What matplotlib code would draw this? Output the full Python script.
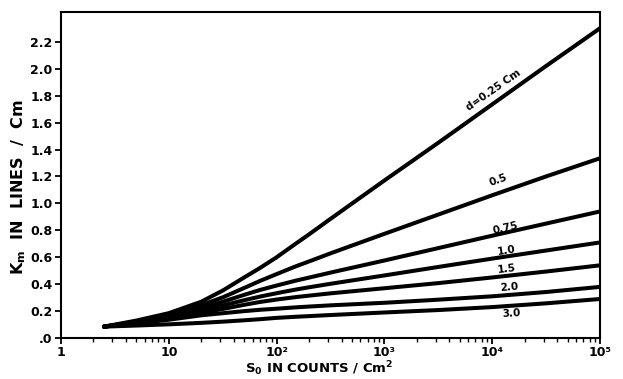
import matplotlib

matplotlib.use("Agg")
import matplotlib.pyplot as plt  # noqa: E402
import numpy as np  # noqa: E402
from matplotlib.ticker import FixedLocator, LogLocator, NullFormatter  # noqa: E402

# S0 sample points (counts / cm^2)
s0 = [2.5, 5, 10, 20, 32, 50, 70, 100, 150, 200, 316, 1000, 3162, 10000, 31623, 100000]

# Km (lines / cm) for each thickness d
km_d025 = [0.085, 0.13, 0.185, 0.27, 0.355, 0.45, 0.52, 0.60, 0.70, 0.77, 0.885,
           1.17, 1.45, 1.735, 2.02, 2.30]
km_d05 = [0.085, 0.121, 0.172, 0.244, 0.304, 0.372, 0.424, 0.475, 0.532, 0.569, 0.629,
          0.774, 0.917, 1.06, 1.20, 1.335]
km_d075 = [0.085, 0.118, 0.163, 0.223, 0.271, 0.321, 0.357, 0.39, 0.426, 0.449, 0.486,
           0.576, 0.668, 0.76, 0.85, 0.94]
km_d10 = [0.085, 0.115, 0.154, 0.205, 0.243, 0.281, 0.308, 0.333, 0.36, 0.377, 0.403,
          0.465, 0.528, 0.59, 0.65, 0.71]
km_d15 = [0.085, 0.112, 0.145, 0.187, 0.217, 0.247, 0.268, 0.286, 0.304, 0.315, 0.332,
          0.37, 0.408, 0.45, 0.494, 0.54]
km_d20 = [0.085, 0.109, 0.136, 0.169, 0.185, 0.20, 0.21, 0.218, 0.228, 0.234, 0.243,
          0.262, 0.285, 0.31, 0.342, 0.38]
km_d30 = [0.085, 0.093, 0.102, 0.113, 0.122, 0.132, 0.14, 0.15, 0.158, 0.163, 0.171,
          0.19, 0.208, 0.23, 0.258, 0.29]

curves = [km_d025, km_d05, km_d075, km_d10, km_d15, km_d20, km_d30]

# curve labels: text, S0 position, Km position, rotation (deg)
labels = ["d=0.25 Cm", "0.5", "0.75", "1.0", "1.5", "2.0", "3.0"]
label_x = [10300, 11300, 13400, 13700, 13700, 14400, 15000]
label_y = [1.84, 1.17, 0.815, 0.65, 0.51, 0.38, 0.18]
label_rot = [35, 19.5, 13, 9, 6.5, 4.5, 3]

y_ticks = [0.0, 0.2, 0.4, 0.6, 0.8, 1.0, 1.2, 1.4, 1.6, 1.8, 2.0, 2.2]
y_ticklabels = [".0", "0.2", "0.4", "0.6", "0.8", "1.0", "1.2", "1.4", "1.6", "1.8", "2.0", "2.2"]
x_ticks = [1, 10, 100, 1000, 10000, 100000]
x_ticklabels = ["1", "10", "10²", "10³", "10⁴", "10⁵"]

fig = plt.figure(figsize=(6.23, 3.79), dpi=100)
ax = fig.add_axes([0.098, 0.108, 0.865, 0.860])

for km in curves:
    ax.plot(s0, km, color="black", lw=2.9, solid_capstyle="round")

for txt, lx, ly, rot in zip(labels, label_x, label_y, label_rot):
    ax.text(lx, ly, txt, rotation=rot, fontsize=7.5, fontweight="bold",
            ha="center", va="center", rotation_mode="anchor")

ax.set_xscale("log")
ax.set_xlim(1, 100000)
ax.set_ylim(0, 2.42)

ax.xaxis.set_major_locator(FixedLocator(x_ticks))
ax.set_xticklabels(x_ticklabels)
ax.xaxis.set_minor_locator(LogLocator(base=10, subs=np.arange(2, 10)))
ax.xaxis.set_minor_formatter(NullFormatter())
ax.set_yticks(y_ticks)
ax.set_yticklabels(y_ticklabels)

ax.tick_params(axis="y", which="major", direction="out", length=4, width=1.3,
               labelsize=9, pad=2)
ax.tick_params(axis="x", which="major", direction="out", length=4, width=1.3,
               labelsize=9, pad=2)
ax.tick_params(axis="x", which="minor", direction="out", length=3, width=1.0)
for lab in ax.get_xticklabels() + ax.get_yticklabels():
    lab.set_fontweight("bold")

for sp in ax.spines.values():
    sp.set_linewidth(1.5)

ax.set_xlabel(r"S$_\mathbf{0}$ IN COUNTS / Cm$^\mathbf{2}$", fontsize=9.5,
              fontweight="bold")
ax.xaxis.set_label_coords(0.48, -0.066)
ax.set_ylabel(r"K$_\mathbf{m}$  IN  LINES  /  Cm", fontsize=11.5, fontweight="bold")
ax.yaxis.set_label_coords(-0.062, 0.463)

fig.savefig("out.png", dpi=100)
plt.close(fig)
